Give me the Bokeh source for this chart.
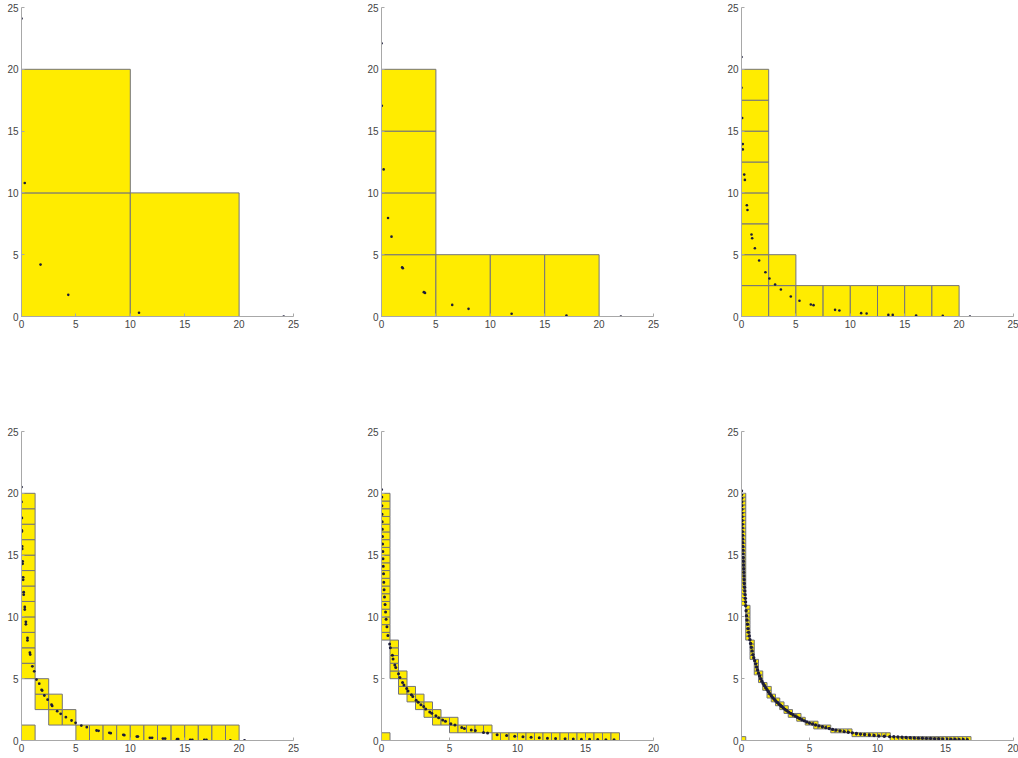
from bokeh.plotting import figure
from bokeh.layouts import column, row
from bokeh.models import FixedTicker
from bokeh.embed import file_html
from bokeh.resources import INLINE

# ---------------- data ----------------
# box size per panel
box_size = [10, 5, 2.5, 1.25, 0.625, 0.3125]
x_max = [25, 25, 25, 25, 20, 20]

# runs of boxes: (column index, first row, last row)
runs1 = [(0, 0, 1), (1, 0, 0)]
runs2 = [(0, 0, 3), (1, 0, 0), (2, 0, 0), (3, 0, 0)]
runs3 = [(0, 0, 7), (1, 0, 1), (2, 0, 0), (3, 0, 0), (4, 0, 0), (5, 0, 0), (6, 0, 0), (7, 0, 0)]
runs4 = [(0, 0, 0), (0, 4, 15), (1, 2, 3), (2, 1, 2), (3, 1, 1),
         (4, 0, 0), (5, 0, 0), (6, 0, 0), (7, 0, 0), (8, 0, 0), (9, 0, 0),
         (10, 0, 0), (11, 0, 0), (12, 0, 0), (13, 0, 0), (14, 0, 0), (15, 0, 0)]
runs5 = [(0, 0, 0), (0, 13, 31), (1, 8, 12), (2, 6, 8), (3, 5, 6), (4, 4, 5), (5, 3, 4),
         (6, 2, 3), (7, 2, 2), (8, 1, 2), (9, 1, 1), (10, 1, 1), (11, 1, 1), (12, 1, 1),
         (13, 0, 0), (14, 0, 0), (15, 0, 0), (16, 0, 0), (17, 0, 0), (18, 0, 0), (19, 0, 0),
         (20, 0, 0), (21, 0, 0), (22, 0, 0), (23, 0, 0), (24, 0, 0), (25, 0, 0), (26, 0, 0),
         (27, 0, 0)]
runs6 = [(0, 0, 0), (0, 35, 63), (1, 26, 34), (2, 21, 25), (3, 17, 20), (4, 15, 17),
         (5, 13, 14), (6, 11, 13), (7, 10, 11), (8, 9, 10), (9, 8, 9), (10, 7, 8),
         (11, 6, 7), (12, 6, 6), (13, 5, 6), (14, 5, 5), (15, 4, 4), (16, 4, 4),
         (17, 3, 4), (18, 3, 3), (19, 3, 3), (20, 3, 3),
         (21, 2, 2), (22, 2, 2), (23, 2, 2), (24, 2, 2), (25, 2, 2),
         (26, 1, 1), (27, 1, 1), (28, 1, 1), (29, 1, 1), (30, 1, 1), (31, 1, 1),
         (32, 1, 1), (33, 1, 1), (34, 1, 1),
         (35, 0, 0), (36, 0, 0), (37, 0, 0), (38, 0, 0), (39, 0, 0), (40, 0, 0),
         (41, 0, 0), (42, 0, 0), (43, 0, 0), (44, 0, 0), (45, 0, 0), (46, 0, 0),
         (47, 0, 0), (48, 0, 0), (49, 0, 0), (50, 0, 0), (51, 0, 0), (52, 0, 0), (53, 0, 0)]
runs = [runs1, runs2, runs3, runs4, runs5, runs6]

# dots
dots1_x = [0.0, 0.3, 1.75, 4.3, 10.8, 24.1]
dots1_y = [24.1, 10.8, 4.2, 1.75, 0.3, 0.0]

dots2_x = [0.0, 0.03, 0.2, 0.6, 0.92, 1.9, 1.96, 3.89, 4.0, 6.5, 8.0, 11.96, 17.0, 22.0]
dots2_y = [22.1, 17.05, 11.9, 7.97, 6.46, 3.99, 3.9, 1.97, 1.91, 0.94, 0.62, 0.22, 0.08, 0.0]

dots3_x = [0.0, 0.0, 0.06, 0.12, 0.12, 0.25, 0.31, 0.49, 0.55, 0.92, 0.98, 1.23, 1.62, 2.2,
           2.57, 3.09, 3.62, 4.53, 5.33, 6.37, 6.62, 8.6, 9.0, 11.0, 11.5, 13.5, 13.9,
           16.05, 18.5, 21.0]
dots3_y = [21.0, 18.5, 16.06, 13.95, 13.52, 11.48, 11.05, 9.0, 8.62, 6.63, 6.33, 5.52, 4.53,
           3.58, 3.07, 2.59, 2.18, 1.62, 1.27, 0.97, 0.92, 0.54, 0.48, 0.27, 0.24, 0.13,
           0.13, 0.08, 0.05, 0.0]

dots4_x = [0.0, 0.0, 0.03, 0.03, 0.03, 0.06, 0.06, 0.1, 0.1, 0.15, 0.15, 0.2, 0.2, 0.3, 0.3,
           0.4, 0.4, 0.55, 0.55, 0.77, 0.8, 1.0, 1.17, 1.38, 1.63, 1.85, 1.9, 2.1, 2.4,
           2.76, 2.82, 3.28, 3.6, 4.08, 4.6, 4.97, 5.5, 6.0, 6.9, 7.08, 8.07, 8.2, 9.36,
           9.45, 10.6, 10.7, 11.8, 12.0, 13.0, 13.2, 14.3, 14.4, 15.5, 15.7, 16.8, 17.0,
           19.2, 20.5]
dots4_y = [20.5, 19.3, 18.0, 17.0, 16.9, 15.7, 15.5, 14.5, 14.3, 13.2, 13.0, 12.0, 11.8,
           10.8, 10.6, 9.6, 9.4, 8.3, 8.1, 7.1, 6.95, 6.0, 5.6, 4.93, 4.6, 4.1, 4.04, 3.64,
           3.3, 2.9, 2.8, 2.37, 2.16, 1.89, 1.62, 1.43, 1.21, 1.08, 0.81, 0.78, 0.62, 0.59,
           0.46, 0.43, 0.32, 0.32, 0.22, 0.22, 0.16, 0.16, 0.11, 0.11, 0.05, 0.05, 0.05,
           0.05, 0.0, 0.0]

dots5_x = [0.0, 0.02, 0.03, 0.04, 0.05, 0.06, 0.07, 0.08, 0.1, 0.11, 0.13, 0.15, 0.17, 0.19,
           0.22, 0.26, 0.3, 0.34, 0.4, 0.47, 0.6, 0.65, 0.8, 0.85, 0.98, 1.05, 1.25, 1.35,
           1.55, 1.65, 1.85, 1.95, 2.2, 2.3, 2.55, 2.7, 2.9, 3.1, 3.25, 3.55, 3.7, 4.0, 4.2,
           4.5, 4.7, 5.1, 5.4, 5.9, 6.1, 6.6, 6.9, 7.5, 7.8, 8.5, 9.2, 9.8, 10.4, 11.0, 11.6,
           12.2, 12.8, 13.5, 14.1, 14.7, 15.3, 15.9, 16.5, 17.1]
dots5_y = [20.3, 19.7, 19.0, 18.3, 17.7, 17.1, 16.5, 15.9, 15.3, 14.7, 14.1, 13.5, 12.8,
           12.2, 11.6, 11.0, 10.4, 9.8, 9.2, 8.5, 7.8, 7.5, 6.9, 6.6, 6.1, 5.9, 5.4, 5.1,
           4.7, 4.5, 4.2, 4.0, 3.7, 3.55, 3.25, 3.1, 2.9, 2.75, 2.55, 2.3, 2.2, 2.0, 1.85,
           1.65, 1.55, 1.35, 1.25, 1.05, 0.98, 0.85, 0.8, 0.65, 0.6, 0.47, 0.4, 0.34, 0.3,
           0.26, 0.22, 0.19, 0.17, 0.15, 0.13, 0.11, 0.1, 0.08, 0.07, 0.06]

dots6_x = [0.0, 0.005, 0.01, 0.015, 0.02, 0.025, 0.03, 0.035, 0.04, 0.045, 0.05, 0.06, 0.07,
           0.08, 0.09, 0.1, 0.11, 0.12, 0.13, 0.14, 0.15, 0.16, 0.17, 0.18, 0.19, 0.2, 0.22,
           0.24, 0.26, 0.28, 0.3, 0.31,
           0.34, 0.37, 0.4, 0.44, 0.48, 0.52, 0.57, 0.62, 0.67, 0.72, 0.78, 0.84, 0.9, 0.97,
           1.04, 1.11, 1.18, 1.25, 1.33, 1.41, 1.5, 1.59, 1.68, 1.78, 1.88, 1.98, 2.08, 2.19,
           2.3, 2.41, 2.52, 2.64, 2.75, 2.86,
           2.95, 3.07, 3.2, 3.33, 3.47, 3.62, 3.78, 3.94, 4.1, 4.27, 4.45, 4.62, 4.8, 5.0,
           5.22, 5.45, 5.7, 5.95, 6.2, 6.45, 6.7, 6.95, 7.25, 7.55, 7.85, 8.15, 8.45, 8.75,
           9.05, 9.4, 9.75, 10.1, 10.5,
           10.9, 11.2, 11.5, 11.8, 12.1, 12.4, 12.7, 13.0, 13.3, 13.6, 13.9, 14.2, 14.5, 14.8,
           15.1, 15.4, 15.7, 16.0, 16.3, 16.6]
dots6_y = [20.2, 19.9, 19.6, 19.3, 19.0, 18.7, 18.4, 18.1, 17.8, 17.5, 17.2, 16.9, 16.6,
           16.3, 16.0, 15.7, 15.4, 15.1, 14.8, 14.5, 14.2, 13.9, 13.6, 13.3, 13.0, 12.7, 12.4,
           12.1, 11.8, 11.5, 11.2, 10.9,
           10.5, 10.1, 9.75, 9.4, 9.05, 8.75, 8.45, 8.15, 7.85, 7.55, 7.25, 6.95, 6.7, 6.45,
           6.2, 5.95, 5.7, 5.45, 5.22, 5.0, 4.8, 4.62, 4.45, 4.27, 4.1, 3.94, 3.78, 3.62,
           3.47, 3.33, 3.2, 3.07, 2.95, 2.86,
           2.75, 2.64, 2.52, 2.41, 2.3, 2.19, 2.08, 1.98, 1.88, 1.78, 1.68, 1.59, 1.5, 1.41,
           1.33, 1.25, 1.18, 1.11, 1.04, 0.97, 0.9, 0.84, 0.78, 0.72, 0.67, 0.62, 0.57, 0.52,
           0.48, 0.44, 0.4, 0.37, 0.34,
           0.31, 0.3, 0.28, 0.26, 0.24, 0.22, 0.2, 0.19, 0.18, 0.17, 0.16, 0.15, 0.14, 0.13,
           0.12, 0.11, 0.1, 0.09, 0.08, 0.07]

dots_x = [dots1_x, dots2_x, dots3_x, dots4_x, dots5_x, dots6_x]
dots_y = [dots1_y, dots2_y, dots3_y, dots4_y, dots5_y, dots6_y]

# ---------------- styling ----------------
FILL = "#FFEC00"
EDGE = "#74747a"
DOT = "#1c1c3a"
AXIS = "#a8a8a8"
LABEL = "#444444"
FONT = "Liberation Sans"
DOT_SIZE = [2.6, 2.6, 2.6, 2.8, 3.0, 3.4]


def make_panel(i, border_right, border_bottom):
    xm = x_max[i]
    p = figure(frame_width=272, frame_height=309,
               x_range=(0, xm), y_range=(0, 25),
               min_border_left=21, min_border_right=border_right,
               min_border_top=7, min_border_bottom=border_bottom,
               output_backend="svg", toolbar_location=None,
               background_fill_color="white", border_fill_color="white")
    p.outline_line_color = None
    p.xgrid.visible = False
    p.ygrid.visible = False
    for ax in (p.xaxis[0], p.yaxis[0]):
        ax.axis_line_color = AXIS
        ax.axis_line_width = 1
        ax.major_tick_line_color = AXIS
        ax.major_tick_in = 3
        ax.major_tick_out = 0
        ax.minor_tick_line_color = None
        ax.major_label_text_font = FONT
        ax.major_label_text_font_size = "10px"
        ax.major_label_text_color = LABEL
        ax.major_label_standoff = 3
    p.xaxis[0].ticker = FixedTicker(ticks=list(range(0, xm + 1, 5)))
    p.yaxis[0].ticker = FixedTicker(ticks=list(range(0, 26, 5)))

    h = box_size[i]
    L, R, B, T = [], [], [], []
    for c, r0, r1 in runs[i]:
        for r in range(r0, r1 + 1):
            L.append(c * h)
            R.append((c + 1) * h)
            B.append(r * h)
            T.append((r + 1) * h)
    p.quad(left=L, right=R, bottom=B, top=T, fill_color=FILL,
           line_color=EDGE, line_width=1)
    p.scatter(dots_x[i], dots_y[i], marker="circle", size=DOT_SIZE[i],
              fill_color=DOT, line_color=None)
    return p


top = row(make_panel(0, 67, 108), make_panel(1, 67, 108), make_panel(2, 5, 108))
bot = row(make_panel(3, 67, 18), make_panel(4, 67, 18), make_panel(5, 5, 18))
layout = column(top, bot)

open("out.html", "w").write(file_html(layout, INLINE))
